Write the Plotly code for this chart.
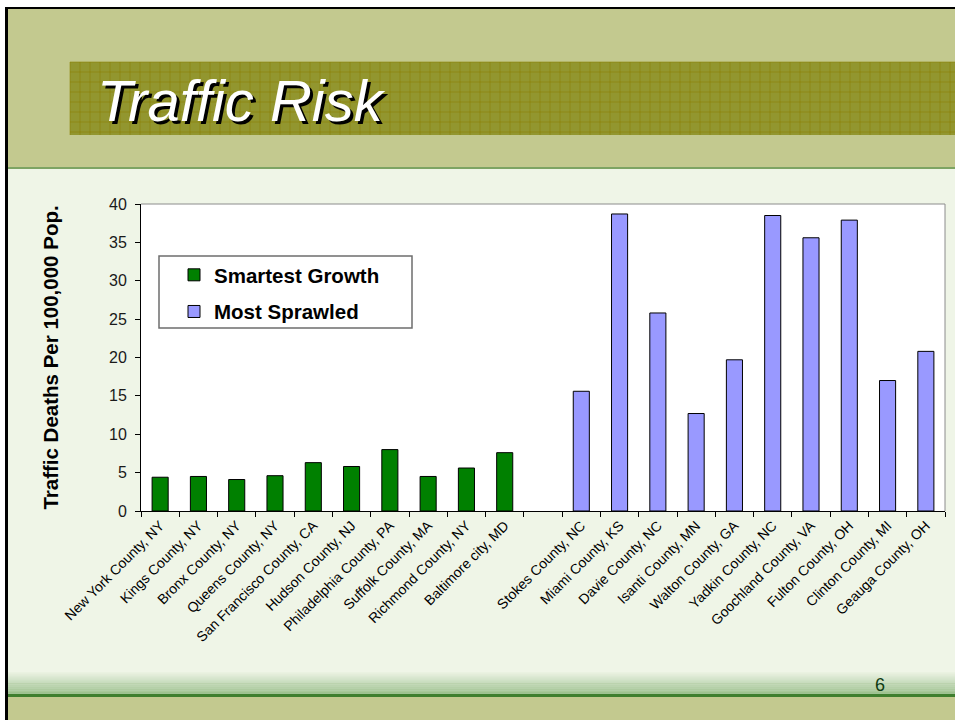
import plotly.graph_objects as go

# ---------------- data ----------------
smart_labels = ["New York County, NY", "Kings County, NY", "Bronx County, NY", "Queens County, NY",
                "San Francisco County, CA", "Hudson County, NJ", "Philadelphia County, PA",
                "Suffolk County, MA", "Richmond County, NY", "Baltimore city, MD"]
smart_values = [4.4, 4.5, 4.1, 4.6, 6.3, 5.8, 8.0, 4.5, 5.6, 7.6]

sprawl_labels = ["Stokes County, NC", "Miami County, KS", "Davie County, NC", "Isanti County, MN",
                 "Walton County, GA", "Yadkin County, NC", "Goochland County, VA", "Fulton County, OH",
                 "Clinton County, MI", "Geauga County, OH"]
sprawl_values = [15.6, 38.7, 25.8, 12.7, 19.7, 38.5, 35.6, 37.9, 17.0, 20.8]

gap_label = [" "]
y_ticks = [0, 5, 10, 15, 20, 25, 30, 35, 40]

# ---------------- geometry helpers ----------------
W, H = 955, 720
L, R, T, B = 141, 945, 204, 511

def px(x):
    return (x - L) / (R - L)

def py(y):
    return (B - y) / (B - T)

FONT = "Liberation Sans, Arial, sans-serif"
GRASS = "#C3C98F"
PANEL = "#EFF5E7"

fig = go.Figure()
fig.add_trace(go.Bar(
    x=smart_labels + gap_label, y=smart_values + [None], name="Smartest Growth",
    legendgroup="a", width=0.42,
    marker=dict(color="#008000", line=dict(color="#000000", width=1)),
))
fig.add_trace(go.Bar(
    x=sprawl_labels, y=sprawl_values, name="Most Sprawled",
    legendgroup="b", width=0.42,
    marker=dict(color="#9999FF", line=dict(color="#000000", width=1)),
))

shapes = []
def rect(x0, y0, x1, y1, fill, layer="below", line=None):
    shapes.append(dict(type="rect", xref="paper", yref="paper",
                       x0=px(x0), x1=px(x1), y0=py(y1), y1=py(y0),
                       fillcolor=fill, line=line or dict(width=0), layer=layer))

# slide frame
rect(0, 0, W, 7, "#FFFFFF")
rect(0, 0, 5, H, "#FFFFFF")
# header grass
rect(8, 9, W, 167, GRASS)
rect(8, 167, W, 169, "#7DA463")
# title band
rect(70, 62, W, 135, "rgba(125,128,5,0.70)")
# grid on the band
path = ""
gx = 70
while gx <= W:
    path += f"M{px(gx)},{py(62)}L{px(gx)},{py(135)}"
    gx += 10
gy = 62
while gy <= 135:
    path += f"M{px(70)},{py(gy)}L{px(W)},{py(gy)}"
    gy += 10
shapes.append(dict(type="path", xref="paper", yref="paper", path=path,
                   line=dict(color="rgba(140,130,0,0.55)", width=1), layer="below"))
# bottom gradient + line + grass
steps = 12
for i in range(steps):
    y0 = 672 + i * 1.85
    rect(8, y0, W, y0 + 1.9, f"rgba(90,150,70,{0.03 + 0.045 * i:.3f})")
rect(8, 694, W, 697, "#3F7F2F")
rect(8, 697, W, H, GRASS)
# black frame lines
rect(5, 7, W, 9, "#000000")
rect(5, 7, 8, H, "#000000")

# plot area top/right gray border
shapes.append(dict(type="line", xref="paper", yref="paper", x0=0, x1=1, y0=1, y1=1,
                   line=dict(color="#8C8C8C", width=1), layer="above"))
shapes.append(dict(type="line", xref="paper", yref="paper", x0=1, x1=1, y0=0, y1=1,
                   line=dict(color="#8C8C8C", width=1), layer="above"))
# legend box
rect(159, 256, 412, 328, "#FFFFFF", layer="above", line=dict(color="#6E6E6E", width=1.5))

annotations = [
    dict(text="<i>Traffic Risk</i>", x=px(95), y=py(100), xref="paper", yref="paper",
         xanchor="left", yanchor="middle", showarrow=False,
         font=dict(family=FONT, size=58, color="#FFFFFF", shadow="3px 3px 0px #000000")),
    dict(text="6", x=px(880), y=py(685), xref="paper", yref="paper",
         xanchor="center", yanchor="middle", showarrow=False,
         font=dict(family=FONT, size=18, color="#0E3B12")),
]

fig.update_layout(
    width=W, height=H,
    margin=dict(l=L, r=W - R, t=T, b=H - B, pad=0),
    paper_bgcolor=PANEL, plot_bgcolor="#FFFFFF",
    barmode="overlay",
    showlegend=True,
    legend=dict(x=px(174), y=py(255), xanchor="left", yanchor="top",
                bgcolor="rgba(0,0,0,0)", borderwidth=0,
                font=dict(family=FONT, size=20.5, color="#000000", weight="bold"),
                traceorder="grouped", tracegroupgap=7),
    shapes=shapes, annotations=annotations,
    xaxis=dict(categoryorder="array", categoryarray=smart_labels + gap_label + sprawl_labels,
               range=[-0.5, 20.5], tickson="boundaries", ticks="outside", ticklen=5,
               tickcolor="#000000", showline=True, linecolor="#000000", linewidth=1,
               tickangle=-45, showgrid=False, zeroline=False,
               tickfont=dict(family=FONT, size=14, color="#000000")),
    yaxis=dict(range=[0, 40], tickvals=y_ticks, ticks="outside", ticklen=5, tickcolor="#000000",
               showline=True, linecolor="#000000", linewidth=1, showgrid=False, zeroline=False,
               ticklabelstandoff=5,
               tickfont=dict(family=FONT, size=16, color="#1A1A1A"),
               title=dict(text="Traffic Deaths Per 100,000 Pop.", standoff=44,
                          font=dict(family=FONT, size=20.5, color="#000000", weight="bold"))),
    font=dict(family=FONT),
)

fig.write_html("out.html")
